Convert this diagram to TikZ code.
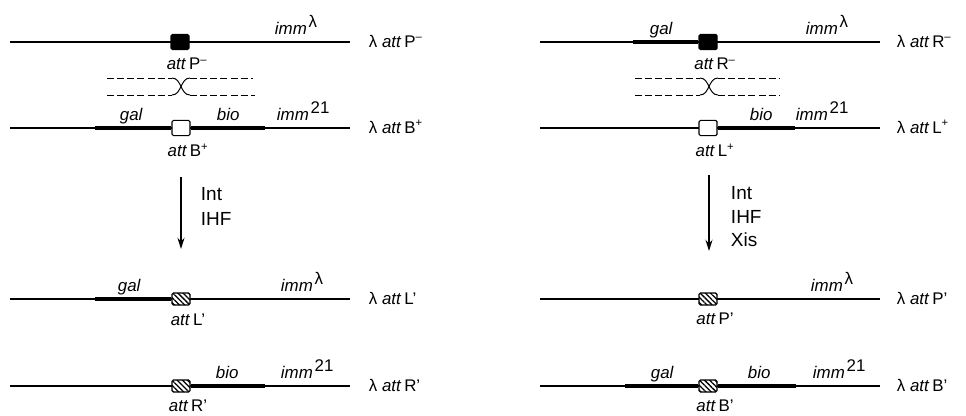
\documentclass[tikz,border=0pt]{standalone}
\usepackage{fontspec}
\setmainfont{Liberation Sans}
\usetikzlibrary{positioning,patterns.meta,arrows.meta}

\begin{document}
\begin{tikzpicture}[>={Stealth[length=8pt,width=5pt]}, x=0.025cm, y=-0.025cm,
    font=\fontsize{12}{14}\selectfont,
    dna/.style={line width=0.9pt},
    arm/.style={line width=2.8pt},
    crossline/.style={line width=0.7pt, dash pattern=on 5pt off 2.2pt},
    xover/.style={line width=0.7pt},
    attfull/.style={draw, fill=black, line width=0.8pt, rounded corners=1pt,
        minimum width=0.45cm, minimum height=0.38cm, inner sep=0pt},
    attopen/.style={attfull, fill=white},
    atthatch/.style={draw, line width=0.8pt, rounded corners=1pt, inner sep=0pt,
        minimum width=0.45cm, minimum height=0.3cm, preaction={fill=white},
        pattern={Lines[angle=-45, distance=2.6pt, line width=0.9pt]}},
    attlabel/.style={below=2pt of #1, xshift=5pt},
    gene/.style={anchor=base west, font=\fontsize{12}{14}\selectfont\itshape},
    phage/.style={anchor=base west},
    enzyme/.style={anchor=base west, font=\fontsize{13.5}{16}\selectfont}]
    \useasboundingbox (0,0) rectangle (966,415);

    % ---- left: integrative recombination ----
    \coordinate (l1a) at (10,42);   \coordinate (l1b) at (350,42);
    \coordinate (l2a) at (10,128);  \coordinate (l2b) at (350,128);
    \coordinate (l3a) at (10,299);  \coordinate (l3b) at (350,299);
    \coordinate (l4a) at (10,386);  \coordinate (l4b) at (350,386);
    \draw[dna] (l1a) -- (l1b);
    \draw[dna] (l2a) -- (l2b);
    \draw[dna] (l3a) -- (l3b);
    \draw[dna] (l4a) -- (l4b);

    \coordinate (l2gal) at (95,128);  \coordinate (l2bio) at (265,128);
    \coordinate (l3gal) at (95,299);  \coordinate (l4bio) at (265,386);

    \node[attfull] (attP) at (180,42) {};
    \node[attopen] (attB) at (181,128) {};
    \node[atthatch] (attL) at (181,299) {};
    \node[atthatch] (attR) at (181,386) {};
    \draw[arm] (l2gal) -- (attB.west);
    \draw[arm] (attB.east) -- (l2bio);
    \draw[arm] (l3gal) -- (attL.west);
    \draw[arm] (attR.east) -- (l4bio);

    \node[attlabel=attP] (tattP) {\textit{att}\,P\textsuperscript{–}};
    \node[attlabel=attB] (tattB) {\textit{att}\,B\textsuperscript{+}};
    \node[attlabel=attL] (tattL) {\textit{att}\,L'};
    \node[attlabel=attR] (tattR) {\textit{att}\,R'};

    \node[gene] (g1imm) at (270,34) {imm\textsuperscript{\,\upshape\large λ}};
    \node[gene] (g2gal) at (115,120) {gal};
    \node[gene] (g2bio) at (212,120) {bio};
    \node[gene] (g2imm) at (272,120) {imm\textsuperscript{\,\upshape\large 21}};
    \node[gene] (g3gal) at (113,291) {gal};
    \node[gene] (g3imm) at (276,291) {imm\textsuperscript{\,\upshape\large λ}};
    \node[gene] (g4bio) at (211,378) {bio};
    \node[gene] (g4imm) at (276,378) {imm\textsuperscript{\,\upshape\large 21}};

    \node[phage] (p1) at (364,47) {λ \textit{att}\,P\textsuperscript{–}};
    \node[phage] (p2) at (364,133) {λ \textit{att}\,B\textsuperscript{+}};
    \node[phage] (p3) at (364,304) {λ \textit{att}\,L'};
    \node[phage] (p4) at (364,391) {λ \textit{att}\,R'};

    % crossover
    \draw[crossline] (107,78) -- (172,78);
    \draw[crossline] (190,78) -- (253,78);
    \draw[crossline] (107,95) -- (172,95);
    \draw[crossline] (190,95) -- (255,95);
    \draw[xover] (172,78) to[out=0, in=180] (190,95);
    \draw[xover] (172,95) to[out=0, in=180] (190,78);

    \coordinate (arrLa) at (181,177);
    \coordinate (arrLb) at (181,249);
    \draw[->, line width=0.9pt] (arrLa) -- (arrLb);
    \node[enzyme] (eInt) at (196,200) {Int};
    \node[enzyme] (eIHF) at (196,225) {IHF};

    % ---- right: excisive recombination ----
    \coordinate (r1a) at (540,42);   \coordinate (r1b) at (880,42);
    \coordinate (r2a) at (540,128);  \coordinate (r2b) at (880,128);
    \coordinate (r3a) at (540,299);  \coordinate (r3b) at (880,299);
    \coordinate (r4a) at (540,386);  \coordinate (r4b) at (880,386);
    \draw[dna] (r1a) -- (r1b);
    \draw[dna] (r2a) -- (r2b);
    \draw[dna] (r3a) -- (r3b);
    \draw[dna] (r4a) -- (r4b);

    \coordinate (r1gal) at (633,42);  \coordinate (r2bio) at (795,128);
    \coordinate (r4gal) at (625,386); \coordinate (r4bio) at (796,386);

    \node[attfull] (attRm) at (708,42) {};
    \node[attopen] (attLp) at (708,128) {};
    \node[atthatch] (attPp) at (708,299) {};
    \node[atthatch] (attBp) at (708,386) {};
    \draw[arm] (r1gal) -- (attRm.west);
    \draw[arm] (attLp.east) -- (r2bio);
    \draw[arm] (r4gal) -- (attBp.west);
    \draw[arm] (attBp.east) -- (r4bio);

    \node[attlabel=attRm] (tattRm) {\textit{att}\,R\textsuperscript{–}};
    \node[attlabel=attLp] (tattLp) {\textit{att}\,L\textsuperscript{+}};
    \node[attlabel=attPp] (tattPp) {\textit{att}\,P'};
    \node[attlabel=attBp] (tattBp) {\textit{att}\,B'};

    \node[gene] (h1gal) at (645,34) {gal};
    \node[gene] (h1imm) at (801,34) {imm\textsuperscript{\,\upshape\large λ}};
    \node[gene] (h2bio) at (745,120) {bio};
    \node[gene] (h2imm) at (791,120) {imm\textsuperscript{\,\upshape\large 21}};
    \node[gene] (h3imm) at (806,291) {imm\textsuperscript{\,\upshape\large λ}};
    \node[gene] (h4gal) at (646,378) {gal};
    \node[gene] (h4bio) at (743,378) {bio};
    \node[gene] (h4imm) at (808,378) {imm\textsuperscript{\,\upshape\large 21}};

    \node[phage] (q1) at (892,47) {λ \textit{att}\,R\textsuperscript{–}};
    \node[phage] (q2) at (892,133) {λ \textit{att}\,L\textsuperscript{+}};
    \node[phage] (q3) at (892,304) {λ \textit{att}\,P'};
    \node[phage] (q4) at (892,391) {λ \textit{att}\,B'};

    % crossover
    \draw[crossline] (635,78) -- (700,78);
    \draw[crossline] (718,78) -- (780,78);
    \draw[crossline] (635,95) -- (700,95);
    \draw[crossline] (718,95) -- (780,95);
    \draw[xover] (700,78) to[out=0, in=180] (718,95);
    \draw[xover] (700,95) to[out=0, in=180] (718,78);

    \coordinate (arrRa) at (709,175);
    \coordinate (arrRb) at (709,251);
    \draw[->, line width=0.9pt] (arrRa) -- (arrRb);
    \node[enzyme] (fInt) at (726,199) {Int};
    \node[enzyme] (fIHF) at (726,223) {IHF};
    \node[enzyme] (fXis) at (726,246) {Xis};
\end{tikzpicture}
\end{document}
